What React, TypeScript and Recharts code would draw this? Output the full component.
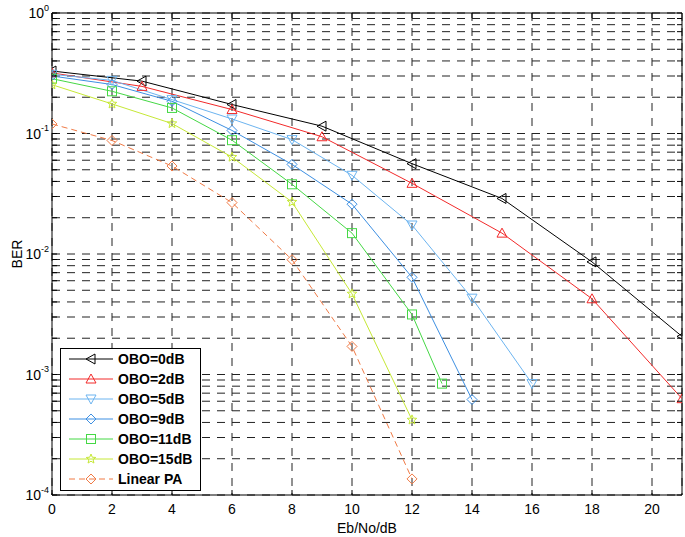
import { LineChart, Line, XAxis, YAxis, CartesianGrid, Legend, ReferenceArea } from 'recharts';

// chart size + plot box (used only for the axis decorations)
const W = 685;
const H = 537;
const PLOT_TOP = 13;
const PLOT_BOTTOM = 495;
const PLOT_LEFT = 52;
const PLOT_RIGHT = 682;

const FONT = '"Liberation Sans", Arial, Helvetica, sans-serif';

// Eb/No (dB) sample points
const EBNO_STEP3 = [0, 3, 6, 9, 12, 15, 18, 21];
const EBNO_OBO5 = [0, 2, 4, 6, 8, 10, 12, 14, 16];
const EBNO_OBO9 = [0, 2, 4, 6, 8, 10, 12, 14];
const EBNO_OBO11 = [0, 2, 4, 6, 8, 10, 12, 13];
const EBNO_OBO15 = [0, 2, 4, 6, 8, 10, 12];
const EBNO_LINEAR = [0, 2, 4, 6, 8, 10, 12];

// BER values
const BER_OBO0 = [0.33, 0.272, 0.174, 0.115, 0.0562, 0.0289, 0.0086, 0.00207];
const BER_OBO2 = [0.318, 0.246, 0.158, 0.094, 0.0386, 0.0149, 0.00425, 0.00063];
const BER_OBO5 = [0.31, 0.276, 0.191, 0.132, 0.089, 0.045, 0.0174, 0.0043, 0.00084];
const BER_OBO9 = [0.3, 0.255, 0.185, 0.106, 0.0554, 0.0259, 0.0064, 0.00062];
const BER_OBO11 = [0.285, 0.224, 0.163, 0.088, 0.0379, 0.0149, 0.00315, 0.00084];
const BER_OBO15 = [0.254, 0.176, 0.121, 0.0637, 0.027, 0.00467, 0.00042];
const BER_LINEAR = [0.12, 0.0875, 0.0537, 0.0267, 0.00897, 0.00171, 0.000136];

// axis ticks
const X_TICKS = [0, 2, 4, 6, 8, 10, 12, 14, 16, 18, 20];
const DECADES = [1e-4, 1e-3, 1e-2, 1e-1, 1];
const MINOR_STEPS = [2, 3, 4, 5, 6, 7, 8, 9];
const Y_TICKS = [
  ...DECADES,
  ...DECADES.slice(0, -1).flatMap((d) => MINOR_STEPS.map((m) => m * d)),
].sort((a, b) => a - b);

type Shape = 'left' | 'up' | 'down' | 'diamond' | 'square' | 'star';

const zip = (xs: number[], ys: number[]) => xs.map((x, i) => ({ x, y: ys[i] }));

const SERIES = [
  { name: 'OBO=0dB', color: '#000000', shape: 'left' as Shape, dash: undefined, data: zip(EBNO_STEP3, BER_OBO0) },
  { name: 'OBO=2dB', color: '#f22a2a', shape: 'up' as Shape, dash: undefined, data: zip(EBNO_STEP3, BER_OBO2) },
  { name: 'OBO=5dB', color: '#6cb4f0', shape: 'down' as Shape, dash: undefined, data: zip(EBNO_OBO5, BER_OBO5) },
  { name: 'OBO=9dB', color: '#3d8fe2', shape: 'diamond' as Shape, dash: undefined, data: zip(EBNO_OBO9, BER_OBO9) },
  { name: 'OBO=11dB', color: '#45d845', shape: 'square' as Shape, dash: undefined, data: zip(EBNO_OBO11, BER_OBO11) },
  { name: 'OBO=15dB', color: '#c6e836', shape: 'star' as Shape, dash: undefined, data: zip(EBNO_OBO15, BER_OBO15) },
  { name: 'Linear PA', color: '#f07a45', shape: 'diamond' as Shape, dash: '6 4', data: zip(EBNO_LINEAR, BER_LINEAR) },
];

function Marker({ cx, cy, shape, color }: { cx: number; cy: number; shape: Shape; color: string }) {
  const common = { fill: 'none', stroke: color, strokeWidth: 1 };
  if (shape === 'square') {
    return <rect x={cx - 4.5} y={cy - 4.5} width={9} height={9} {...common} />;
  }
  let pts: number[][] = [];
  if (shape === 'left') pts = [[cx - 5, cy], [cx + 4, cy - 5], [cx + 4, cy + 5]];
  if (shape === 'up') pts = [[cx, cy - 5], [cx - 5, cy + 4], [cx + 5, cy + 4]];
  if (shape === 'down') pts = [[cx, cy + 5], [cx - 5, cy - 4], [cx + 5, cy - 4]];
  if (shape === 'diamond') pts = [[cx, cy - 5], [cx + 5, cy], [cx, cy + 5], [cx - 5, cy]];
  if (shape === 'star') {
    for (let i = 0; i < 10; i++) {
      const r = i % 2 === 0 ? 5 : 2.2;
      const a = -Math.PI / 2 + (i * Math.PI) / 5;
      pts.push([cx + r * Math.cos(a), cy + r * Math.sin(a)]);
    }
  }
  return <polygon points={pts.map((p) => p.join(',')).join(' ')} {...common} />;
}

function XTick({ x, payload }: any) {
  return (
    <g>
      <line x1={x} x2={x} y1={PLOT_BOTTOM} y2={PLOT_BOTTOM - 5} stroke="#000" />
      <line x1={x} x2={x} y1={PLOT_TOP} y2={PLOT_TOP + 5} stroke="#000" />
      <text x={x} y={PLOT_BOTTOM + 9} dy="0.71em" textAnchor="middle" fontSize={14} fill="#000" fontFamily={FONT}>
        {payload.value}
      </text>
    </g>
  );
}

function YTick({ y, payload }: any) {
  const v = payload.value;
  const major = DECADES.includes(v);
  return (
    <g>
      <line x1={PLOT_LEFT} x2={PLOT_LEFT + 5} y1={y} y2={y} stroke="#000" />
      <line x1={PLOT_RIGHT - 5} x2={PLOT_RIGHT} y1={y} y2={y} stroke="#000" />
      {major && (
        <text x={PLOT_LEFT - 3} y={y} textAnchor="end" fontSize={14} fill="#000" fontFamily={FONT}>
          <tspan dy="0.36em">10</tspan>
          <tspan dy="-0.8em" fontSize={9}>
            {Math.round(Math.log10(v))}
          </tspan>
        </text>
      )}
    </g>
  );
}

function LegendBox() {
  return (
    <div
      style={{
        border: '1px solid #000',
        background: '#fff',
        width: 139,
        padding: '0 0 1px 0',
        fontFamily: FONT,
      }}
    >
      {SERIES.map((s) => (
        <div key={s.name} style={{ display: 'flex', alignItems: 'center', height: 20 }}>
          <svg width={54} height={20} style={{ display: 'block' }}>
            <line x1={8} x2={52} y1={10} y2={10} stroke={s.color} strokeDasharray={s.dash} />
            <Marker cx={30} cy={10} shape={s.shape} color={s.color} />
          </svg>
          <span style={{ marginLeft: 3, fontSize: 14, fontWeight: 'bold', color: '#000', lineHeight: '20px' }}>
            {s.name}
          </span>
        </div>
      ))}
    </div>
  );
}

export default function App() {
  return (
    <div style={{ position: 'absolute', left: 0, top: 0, width: W, height: H, background: '#fff' }}>
      <LineChart
        width={W}
        height={H}
        margin={{ top: PLOT_TOP, right: W - PLOT_RIGHT, bottom: 0, left: 0 }}
        style={{ fontFamily: FONT }}
      >
        <CartesianGrid stroke="#222" strokeDasharray="8 7" />
        <XAxis
          type="number"
          dataKey="x"
          domain={[0, 21]}
          ticks={X_TICKS}
          interval={0}
          height={H - PLOT_BOTTOM}
          tickLine={false}
          tickSize={0}
          axisLine={false}
          tick={<XTick />}
          allowDataOverflow
          label={{ value: 'Eb/No/dB', position: 'insideBottom', offset: 4, fontSize: 14, fill: '#000', fontFamily: FONT }}
        />
        <YAxis
          type="number"
          scale="log"
          domain={[1e-4, 1]}
          ticks={Y_TICKS}
          interval={0}
          width={PLOT_LEFT}
          tickLine={false}
          tickSize={0}
          axisLine={false}
          tick={<YTick />}
          allowDataOverflow
          label={{ value: 'BER', angle: -90, position: 'insideLeft', offset: 17, textAnchor: 'middle', fontSize: 14, fill: '#000', fontFamily: FONT }}
        />
        <ReferenceArea x1={0} x2={21} y1={1e-4} y2={1} fill="none" stroke="#000" strokeWidth={1} />
        {SERIES.map((s) => (
          <Line
            key={s.name}
            data={s.data}
            dataKey="y"
            name={s.name}
            type="linear"
            stroke={s.color}
            strokeWidth={1}
            strokeDasharray={s.dash}
            dot={(p: any) => <Marker key={`${s.name}-${p.index}`} cx={p.cx} cy={p.cy} shape={s.shape} color={s.color} />}
            isAnimationActive={false}
          />
        ))}
        <Legend
          layout="horizontal"
          verticalAlign="middle"
          align="center"
          wrapperStyle={{ left: 60, top: 348, width: 141 }}
          content={() => <LegendBox />}
        />
      </LineChart>
    </div>
  );
}
